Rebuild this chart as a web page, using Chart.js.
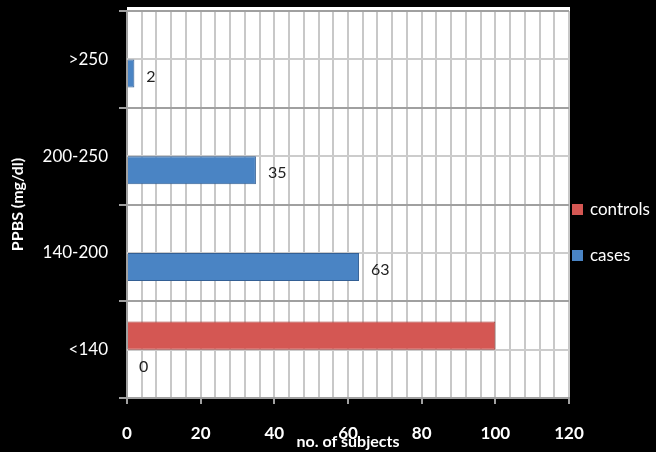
<!DOCTYPE html>
<html>
<head>
<meta charset="utf-8">
<script src="https://cdn.jsdelivr.net/npm/chart.js@4/dist/chart.umd.min.js"></script>
<style>
  html, body { margin: 0; padding: 0; background: #000; }
  #wrap { position: relative; width: 656px; height: 452px; background: #000; }
  .leg { position: absolute; left: 572px; height: 20px; line-height: 20px; color: #fff;
         font: 17px Lato, sans-serif; white-space: nowrap; }
  .leg span.box { display: inline-block; width: 11px; height: 11px; margin-right: 7px; vertical-align: 0px; }
</style>
</head>
<body>
<div id="wrap">
  <canvas id="chart" width="656" height="452"></canvas>
</div>
<script>
// categories listed bottom to top, as in the picture
const categories = ['<140', '140-200', '200-250', '>250'];
const controls = [100, 0, 0, 0];
const cases = [0, 63, 35, 2];
const xTicks = [0, 20, 40, 60, 80, 100, 120];

const red = '#d45753', redEdge = '#a63e3b';
const blue = '#4a84c4', blueEdge = '#335f94';

// white plot area plus the light half-band lines
const plotBg = {
    id: 'plotBg',
    beforeDraw(chart) {
        const { ctx, chartArea: a } = chart;
        ctx.save();
        ctx.fillStyle = '#fff';
        ctx.fillRect(a.left, a.top - 4, a.right - a.left + 1, a.bottom - a.top + 4);
        ctx.restore();
    },
    beforeDatasetsDraw(chart) {
        const { ctx, chartArea: a } = chart;
        const y = chart.scales.y;
        ctx.save();
        ctx.strokeStyle = '#cccccc';
        ctx.lineWidth = 2;
        categories.forEach((c, i) => {
            const py = Math.round(y.getPixelForValue(i));
            ctx.beginPath();
            ctx.moveTo(a.left, py);
            ctx.lineTo(a.right, py);
            ctx.stroke();
        });
        ctx.restore();
    }
};

// value labels for the cases bars only
const caseLabels = {
    id: 'caseLabels',
    afterDatasetsDraw(chart) {
        const { ctx } = chart;
        const meta = chart.getDatasetMeta(1);
        ctx.save();
        ctx.font = '16px Lato, sans-serif';
        ctx.fillStyle = '#222';
        ctx.textAlign = 'left';
        ctx.textBaseline = 'middle';
        meta.data.forEach((bar, i) => {
            ctx.fillText(String(cases[i]), bar.x + 12, bar.y + 3);
        });
        ctx.restore();
    }
};

new Chart(document.getElementById('chart'), {
    type: 'bar',
    data: {
        labels: categories,
        datasets: [
            { label: 'controls', data: controls, backgroundColor: red, borderColor: redEdge, borderWidth: 1 },
            { label: 'cases', data: cases, backgroundColor: blue, borderColor: blueEdge, borderWidth: 1 }
        ]
    },
    options: {
        indexAxis: 'y',
        responsive: false,
        animation: false,
        events: [],
        layout: { padding: { top: 11, right: 87, left: 0, bottom: 0 } },
        datasets: { bar: { categoryPercentage: 0.58, barPercentage: 1 } },
        plugins: { legend: { display: false }, tooltip: { enabled: false } },
        scales: {
            x: {
                min: 0,
                max: 120,
                afterFit: s => { s.height = 54; },
                ticks: {
                    stepSize: 4,
                    autoSkip: false,
                    maxRotation: 0,
                    padding: 19,
                    color: '#fff',
                    font: { family: 'Lato', size: 17, weight: 'bold' },
                    callback: v => xTicks.includes(v) ? v : ''
                },
                grid: {
                    color: '#c8c8c8',
                    lineWidth: 2,
                    tickLength: 6,
                    tickColor: c => xTicks.includes(c.tick.value) ? '#a0a0a0' : 'rgba(0,0,0,0)'
                },
                border: { color: '#a0a0a0', width: 2 },
                title: {
                    display: true,
                    text: 'no. of subjects',
                    color: '#fff',
                    font: { family: 'Lato', size: 16, weight: 'bold' },
                    padding: { top: 0, bottom: 1 }
                }
            },
            y: {
                reverse: true,
                afterFit: s => { s.width = 127; s.paddingTop = 0; s.paddingBottom = 0; },
                ticks: {
                    padding: 11,
                    color: '#fff',
                    font: { family: 'Lato', size: 17 }
                },
                grid: {
                    color: '#a0a0a0',
                    lineWidth: 2,
                    tickLength: 8,
                    tickColor: '#a0a0a0'
                },
                border: { color: '#a0a0a0', width: 2 },
                title: {
                    display: true,
                    text: 'PPBS (mg/dl)',
                    color: '#fff',
                    font: { family: 'Lato', size: 16, weight: 'bold' },
                    padding: { top: 8, bottom: 0 }
                }
            }
        }
    },
    plugins: [plotBg, caseLabels]
});

// legend on the right, controls above cases
const wrap = document.getElementById('wrap');
[['controls', red, 198], ['cases', blue, 244]].forEach(([name, col, top]) => {
    const d = document.createElement('div');
    d.className = 'leg';
    d.style.top = top + 'px';
    d.innerHTML = '<span class="box" style="background:' + col + '"></span>' + name;
    wrap.appendChild(d);
});
</script>
</body>
</html>
